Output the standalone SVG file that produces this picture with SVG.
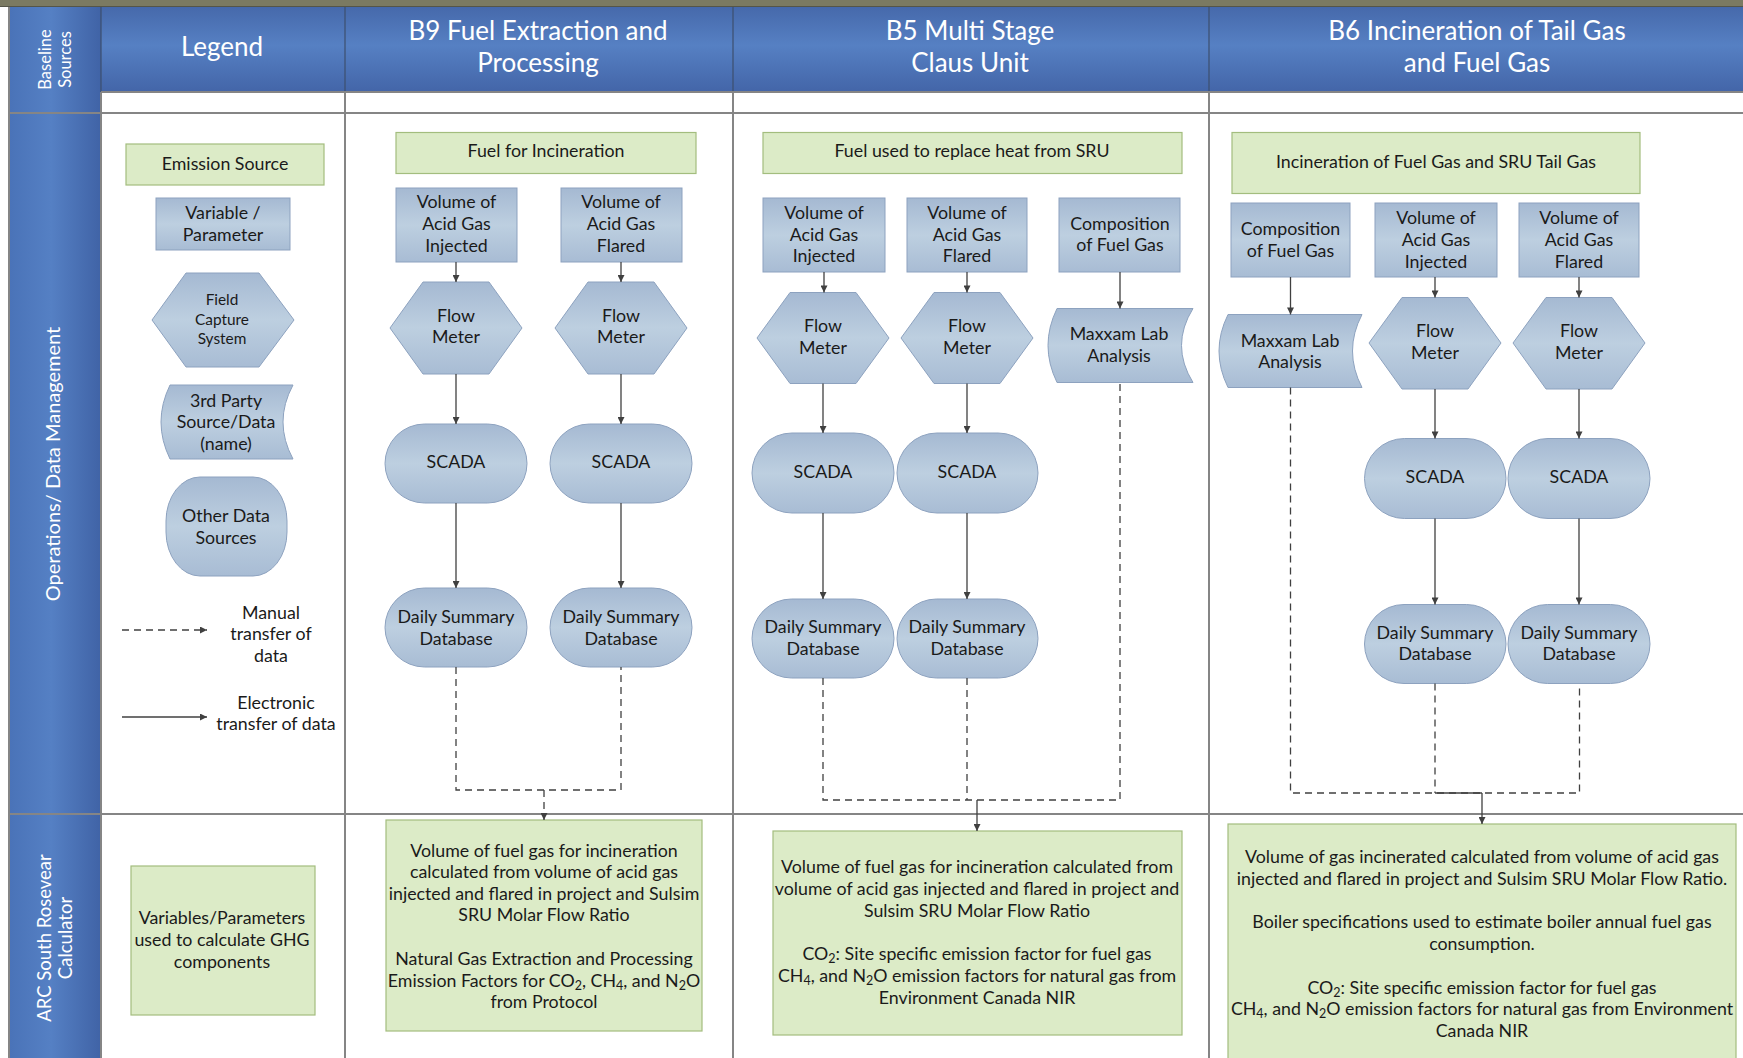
<svg xmlns="http://www.w3.org/2000/svg" width="1743" height="1058" viewBox="0 0 1743 1058">
<defs>
<linearGradient id="sideG" x1="0" y1="0" x2="1" y2="0">
<stop offset="0" stop-color="#4a73b8"/><stop offset="0.45" stop-color="#5580c4"/><stop offset="1" stop-color="#4063a6"/>
</linearGradient>
<linearGradient id="headG" x1="0" y1="0" x2="0" y2="1">
<stop offset="0" stop-color="#4669ab"/><stop offset="0.45" stop-color="#5680c3"/><stop offset="1" stop-color="#4365a8"/>
</linearGradient>
<linearGradient id="nodeG" x1="0" y1="0" x2="0" y2="1">
<stop offset="0" stop-color="#a5b9d2"/><stop offset="0.5" stop-color="#bdcfe0"/><stop offset="1" stop-color="#a8bcd4"/>
</linearGradient>
<marker id="ah" viewBox="0 0 10 10" refX="10" refY="5" markerWidth="8" markerHeight="7" markerUnits="userSpaceOnUse" orient="auto">
<path d="M0,0 L10,5 L0,10 z" fill="#404040"/>
</marker>
<style>
.n{fill:url(#nodeG);stroke:#8da2bf;stroke-width:1}
.g{fill:#dcebc7;stroke:#a3bd7e;stroke-width:1.2}
.t{font-family:Lato,"Open Sans","Liberation Sans",sans-serif;font-size:17.8px;fill:#1a1a1a;text-anchor:middle}
.ts{font-size:15.4px}
.h{font-family:Lato,"Open Sans","Liberation Sans",sans-serif;font-size:26px;fill:#ffffff;text-anchor:middle}
.sd{font-family:Lato,"Open Sans","Liberation Sans",sans-serif;fill:#ffffff;text-anchor:middle}
.c{fill:none;stroke:#404040;stroke-width:1.3}
.d{fill:none;stroke:#404040;stroke-width:1.3;stroke-dasharray:7 5}
.gl{stroke:#858585;stroke-width:2;fill:none}
.hl{stroke:#3d4f6e;stroke-width:1.2;fill:none}
</style>
</defs>

<g id="background">
<rect x="0" y="0" width="1743" height="1058" fill="#ffffff"/>
<rect x="0" y="0" width="1743" height="6" fill="#7b7a62"/>
<rect x="0" y="6" width="1743" height="1" fill="#555548"/>
<rect x="10" y="7" width="91" height="1051" fill="url(#sideG)"/>
<rect x="101" y="7" width="1642" height="85" fill="url(#headG)"/>
<line class="gl" x1="9" y1="7" x2="9" y2="1058"/>
<line class="hl" x1="101" y1="7" x2="101" y2="92"/>
<line class="hl" x1="345" y1="7" x2="345" y2="92"/>
<line class="hl" x1="733" y1="7" x2="733" y2="92"/>
<line class="hl" x1="1209" y1="7" x2="1209" y2="92"/>
<line class="gl" x1="101" y1="92" x2="1743" y2="92"/>
<line class="gl" x1="10" y1="113" x2="1743" y2="113"/>
<line class="gl" x1="10" y1="814" x2="1743" y2="814"/>
<line class="gl" x1="101" y1="92" x2="101" y2="1058"/>
<line class="gl" x1="345" y1="92" x2="345" y2="1058"/>
<line class="gl" x1="733" y1="92" x2="733" y2="1058"/>
<line class="gl" x1="1209" y1="92" x2="1209" y2="1058"/>
</g>

<g id="side-labels">
<text class="sd" font-size="16.5" transform="translate(50.5,59.5) rotate(-90)">Baseline</text>
<text class="sd" font-size="16.5" transform="translate(70.5,59.5) rotate(-90)">Sources</text>
<text class="sd" font-size="20" transform="translate(60,464) rotate(-90)">Operations/ Data Management</text>
<text class="sd" font-size="18.5" transform="translate(50.5,938) rotate(-90)">ARC South Rosevear</text>
<text class="sd" font-size="18.5" transform="translate(71.5,938) rotate(-90)">Calculator</text>
</g>

<g id="headers">
<text class="h" x="222" y="56">Legend</text>
<text class="h" x="538" y="40">B9 Fuel Extraction and</text>
<text class="h" x="538" y="72">Processing</text>
<text class="h" x="970" y="40">B5 Multi Stage</text>
<text class="h" x="970" y="72">Claus Unit</text>
<text class="h" x="1477" y="40">B6 Incineration of Tail Gas</text>
<text class="h" x="1477" y="72">and Fuel Gas</text>
</g>

<g id="legend">
<g id="lg-emission"><rect class="g" x="126" y="144" width="198" height="41"/><text class="t" x="225" y="170">Emission Source</text></g>
<g id="lg-variable"><rect class="n" x="156" y="198" width="134" height="52"/><text class="t" x="223" y="219">Variable /</text><text class="t" x="223" y="241">Parameter</text></g>
<g id="lg-field"><polygon class="n" points="152,320 186,273 259,273 294,320 259,367 186,367"/><text class="t ts" x="222" y="305">Field</text><text class="t ts" x="222" y="325">Capture</text><text class="t ts" x="222" y="344">System</text></g>
<g id="lg-3rdparty"><path class="n" d="M170,385 L293,385 Q273,422 293,459 L170,459 Q152,422 170,385 Z"/><text class="t" x="226" y="407">3rd Party</text><text class="t" x="226" y="428">Source/Data</text><text class="t" x="226" y="450">(name)</text></g>
<g id="lg-other"><rect class="n" x="166" y="477" width="121" height="99" rx="34" ry="44"/><text class="t" x="226" y="522">Other Data</text><text class="t" x="226" y="544">Sources</text></g>
<g id="lg-manual"><text class="t" x="271" y="619">Manual</text><text class="t" x="271" y="640">transfer of</text><text class="t" x="271" y="662">data</text></g>
<g id="lg-electronic"><text class="t" x="276" y="709">Electronic</text><text class="t" x="276" y="730">transfer of data</text></g>
<g id="lg-variables"><rect class="g" x="131" y="866" width="184" height="149"/><text class="t" x="222" y="924">Variables/Parameters</text><text class="t" x="222" y="946">used to calculate GHG</text><text class="t" x="222" y="968">components</text></g>
</g>

<g id="b9">
<g id="b9-source"><rect class="g" x="396" y="132.5" width="300" height="41"/><text class="t" x="546" y="157">Fuel for Incineration</text></g>
<g id="b9-volinj"><rect class="n" x="396" y="188" width="121" height="74"/><text class="t" x="456.5" y="208">Volume of</text><text class="t" x="456.5" y="230">Acid Gas</text><text class="t" x="456.5" y="251.5">Injected</text></g>
<g id="b9-volfl"><rect class="n" x="561" y="188" width="121" height="74"/><text class="t" x="621" y="208">Volume of</text><text class="t" x="621" y="230">Acid Gas</text><text class="t" x="621" y="251.5">Flared</text></g>
<g id="b9-flow1"><polygon class="n" points="390,328 423,282 489,282 522,328 489,374 423,374"/><text class="t" x="456" y="322">Flow</text><text class="t" x="456" y="343">Meter</text></g>
<g id="b9-flow2"><polygon class="n" points="555,328 588,282 654,282 687,328 654,374 588,374"/><text class="t" x="621" y="322">Flow</text><text class="t" x="621" y="343">Meter</text></g>
<g id="b9-scada1"><rect class="n" x="385" y="424" width="142" height="79" rx="39.5"/><text class="t" x="456" y="468">SCADA</text></g>
<g id="b9-scada2"><rect class="n" x="550" y="424" width="142" height="79" rx="39.5"/><text class="t" x="621" y="468">SCADA</text></g>
<g id="b9-daily1"><rect class="n" x="385" y="588" width="142" height="79" rx="39.5"/><text class="t" x="456" y="623">Daily Summary</text><text class="t" x="456" y="644.5">Database</text></g>
<g id="b9-daily2"><rect class="n" x="550" y="588" width="142" height="79" rx="39.5"/><text class="t" x="621" y="623">Daily Summary</text><text class="t" x="621" y="644.5">Database</text></g>
<g id="b9-result"><rect class="g" x="386" y="820" width="316" height="211"/>
<text class="t" x="544" y="857">Volume of fuel gas for incineration</text>
<text class="t" x="544" y="878">calculated from volume of acid gas</text>
<text class="t" x="544" y="899.5">injected and flared in project and Sulsim</text>
<text class="t" x="544" y="921">SRU Molar Flow Ratio</text>
<text class="t" x="544" y="965">Natural Gas Extraction and Processing</text>
<text class="t" x="544" y="986.5">Emission Factors for CO<tspan font-size="12.5" dy="3">2</tspan><tspan dy="-3">, CH</tspan><tspan font-size="12.5" dy="3">4</tspan><tspan dy="-3">, and N</tspan><tspan font-size="12.5" dy="3">2</tspan><tspan dy="-3">O</tspan></text>
<text class="t" x="544" y="1008">from Protocol</text></g>
</g>

<g id="b5">
<g id="b5-source"><rect class="g" x="763" y="132.5" width="419" height="41"/><text class="t" x="972" y="157">Fuel used to replace heat from SRU</text></g>
<g id="b5-volinj"><rect class="n" x="763" y="198" width="122" height="74"/><text class="t" x="824" y="219">Volume of</text><text class="t" x="824" y="240.5">Acid Gas</text><text class="t" x="824" y="262">Injected</text></g>
<g id="b5-volfl"><rect class="n" x="907" y="198" width="120" height="74"/><text class="t" x="967" y="219">Volume of</text><text class="t" x="967" y="240.5">Acid Gas</text><text class="t" x="967" y="262">Flared</text></g>
<g id="b5-comp"><rect class="n" x="1059" y="198" width="121" height="74"/><text class="t" x="1120" y="229.5">Composition</text><text class="t" x="1120" y="251">of Fuel Gas</text></g>
<g id="b5-flow1"><polygon class="n" points="757,338 790,292.5 856,292.5 889,338 856,383.5 790,383.5"/><text class="t" x="823" y="332">Flow</text><text class="t" x="823" y="353.5">Meter</text></g>
<g id="b5-flow2"><polygon class="n" points="901,338 934,292.5 1000,292.5 1033,338 1000,383.5 934,383.5"/><text class="t" x="967" y="332">Flow</text><text class="t" x="967" y="353.5">Meter</text></g>
<g id="b5-maxxam"><path class="n" d="M1057,308.5 L1193,308.5 Q1170,345.5 1193,382.5 L1057,382.5 Q1039,345.5 1057,308.5 Z"/><text class="t" x="1119" y="339.5">Maxxam Lab</text><text class="t" x="1119" y="361.5">Analysis</text></g>
<g id="b5-scada1"><rect class="n" x="752" y="433" width="142" height="80" rx="40"/><text class="t" x="823" y="478">SCADA</text></g>
<g id="b5-scada2"><rect class="n" x="897" y="433" width="141" height="80" rx="40"/><text class="t" x="967" y="478">SCADA</text></g>
<g id="b5-daily1"><rect class="n" x="752" y="599" width="142" height="79" rx="39.5"/><text class="t" x="823" y="633">Daily Summary</text><text class="t" x="823" y="654.5">Database</text></g>
<g id="b5-daily2"><rect class="n" x="897" y="599" width="141" height="79" rx="39.5"/><text class="t" x="967" y="633">Daily Summary</text><text class="t" x="967" y="654.5">Database</text></g>
<g id="b5-result"><rect class="g" x="773" y="831" width="409" height="204"/>
<text class="t" x="977" y="873">Volume of fuel gas for incineration calculated from</text>
<text class="t" x="977" y="895">volume of acid gas injected and flared in project and</text>
<text class="t" x="977" y="917">Sulsim SRU Molar Flow Ratio</text>
<text class="t" x="977" y="960">CO<tspan font-size="12.5" dy="3">2</tspan><tspan dy="-3">: Site specific emission factor for fuel gas</tspan></text>
<text class="t" x="977" y="982">CH<tspan font-size="12.5" dy="3">4</tspan><tspan dy="-3">, and N</tspan><tspan font-size="12.5" dy="3">2</tspan><tspan dy="-3">O emission factors for natural gas from</tspan></text>
<text class="t" x="977" y="1004">Environment Canada NIR</text></g>
</g>

<g id="b6">
<g id="b6-source"><rect class="g" x="1232" y="132.5" width="408" height="61"/><text class="t" x="1436" y="168">Incineration of Fuel Gas and SRU Tail Gas</text></g>
<g id="b6-comp"><rect class="n" x="1231" y="203" width="119" height="74"/><text class="t" x="1290.5" y="235">Composition</text><text class="t" x="1290.5" y="257">of Fuel Gas</text></g>
<g id="b6-volinj"><rect class="n" x="1375" y="203" width="122" height="74"/><text class="t" x="1436" y="223.5">Volume of</text><text class="t" x="1436" y="246">Acid Gas</text><text class="t" x="1436" y="268">Injected</text></g>
<g id="b6-volfl"><rect class="n" x="1519" y="203" width="120" height="74"/><text class="t" x="1579" y="223.5">Volume of</text><text class="t" x="1579" y="246">Acid Gas</text><text class="t" x="1579" y="268">Flared</text></g>
<g id="b6-maxxam"><path class="n" d="M1228,314.5 L1362,314.5 Q1343,351 1362,387.5 L1228,387.5 Q1210,351 1228,314.5 Z"/><text class="t" x="1290" y="346.5">Maxxam Lab</text><text class="t" x="1290" y="368">Analysis</text></g>
<g id="b6-flow1"><polygon class="n" points="1369,343 1402,297.5 1468,297.5 1501,343 1468,389 1402,389"/><text class="t" x="1435" y="337">Flow</text><text class="t" x="1435" y="359">Meter</text></g>
<g id="b6-flow2"><polygon class="n" points="1513,343 1546,297.5 1612,297.5 1645,343 1612,389 1546,389"/><text class="t" x="1579" y="337">Flow</text><text class="t" x="1579" y="359">Meter</text></g>
<g id="b6-scada1"><rect class="n" x="1364.5" y="438.5" width="141.5" height="80" rx="40"/><text class="t" x="1435" y="483">SCADA</text></g>
<g id="b6-scada2"><rect class="n" x="1508" y="438.5" width="142" height="80" rx="40"/><text class="t" x="1579" y="483">SCADA</text></g>
<g id="b6-daily1"><rect class="n" x="1364.5" y="604.5" width="141.5" height="79" rx="39.5"/><text class="t" x="1435" y="639">Daily Summary</text><text class="t" x="1435" y="660">Database</text></g>
<g id="b6-daily2"><rect class="n" x="1508" y="604.5" width="142" height="79" rx="39.5"/><text class="t" x="1579" y="639">Daily Summary</text><text class="t" x="1579" y="660">Database</text></g>
<g id="b6-result"><rect class="g" x="1228" y="824" width="508" height="250"/>
<text class="t" x="1482" y="863">Volume of gas incinerated calculated from volume of acid gas</text>
<text class="t" x="1482" y="885">injected and flared in project and Sulsim SRU Molar Flow Ratio.</text>
<text class="t" x="1482" y="928">Boiler specifications used to estimate boiler annual fuel gas</text>
<text class="t" x="1482" y="950">consumption.</text>
<text class="t" x="1482" y="994">CO<tspan font-size="12.5" dy="3">2</tspan><tspan dy="-3">: Site specific emission factor for fuel gas</tspan></text>
<text class="t" x="1482" y="1015">CH<tspan font-size="12.5" dy="3">4</tspan><tspan dy="-3">, and N</tspan><tspan font-size="12.5" dy="3">2</tspan><tspan dy="-3">O emission factors for natural gas from Environment</tspan></text>
<text class="t" x="1482" y="1037">Canada NIR</text></g>
</g>

<g id="connectors">
<line class="d" x1="122" y1="630" x2="207" y2="630" marker-end="url(#ah)"/>
<line class="c" x1="122" y1="717" x2="207" y2="717" marker-end="url(#ah)"/>

<line class="c" x1="456" y1="262" x2="456" y2="282" marker-end="url(#ah)"/>
<line class="c" x1="621" y1="262" x2="621" y2="282" marker-end="url(#ah)"/>
<line class="c" x1="456" y1="374" x2="456" y2="424" marker-end="url(#ah)"/>
<line class="c" x1="621" y1="374" x2="621" y2="424" marker-end="url(#ah)"/>
<line class="c" x1="456" y1="503" x2="456" y2="588" marker-end="url(#ah)"/>
<line class="c" x1="621" y1="503" x2="621" y2="588" marker-end="url(#ah)"/>
<polyline class="d" points="456,667 456,790 621,790 621,667"/>
<line class="d" x1="544" y1="790" x2="544" y2="820" marker-end="url(#ah)"/>

<line class="c" x1="824" y1="272" x2="824" y2="292.5" marker-end="url(#ah)"/>
<line class="c" x1="967" y1="272" x2="967" y2="292.5" marker-end="url(#ah)"/>
<line class="c" x1="1120" y1="272" x2="1120" y2="308.5" marker-end="url(#ah)"/>
<line class="c" x1="823" y1="383.5" x2="823" y2="433" marker-end="url(#ah)"/>
<line class="c" x1="967" y1="383.5" x2="967" y2="433" marker-end="url(#ah)"/>
<line class="c" x1="823" y1="513" x2="823" y2="599" marker-end="url(#ah)"/>
<line class="c" x1="967" y1="513" x2="967" y2="599" marker-end="url(#ah)"/>
<polyline class="d" points="823,678 823,800 1120,800 1120,382.5"/>
<line class="d" x1="967" y1="678" x2="967" y2="800"/>
<line class="c" x1="977" y1="800" x2="977" y2="831" marker-end="url(#ah)"/>

<line class="c" x1="1290.5" y1="277" x2="1290.5" y2="314.5" marker-end="url(#ah)"/>
<line class="c" x1="1435" y1="277" x2="1435" y2="297.5" marker-end="url(#ah)"/>
<line class="c" x1="1579" y1="277" x2="1579" y2="297.5" marker-end="url(#ah)"/>
<line class="c" x1="1435" y1="389" x2="1435" y2="438.5" marker-end="url(#ah)"/>
<line class="c" x1="1579" y1="389" x2="1579" y2="438.5" marker-end="url(#ah)"/>
<line class="c" x1="1435" y1="518.5" x2="1435" y2="604.5" marker-end="url(#ah)"/>
<line class="c" x1="1579" y1="518.5" x2="1579" y2="604.5" marker-end="url(#ah)"/>
<polyline class="d" points="1290.5,387.5 1290.5,793 1579.5,793 1579.5,683.5"/>
<line class="d" x1="1435" y1="683.5" x2="1435" y2="793"/>
<line class="c" x1="1435" y1="793" x2="1482" y2="793"/>
<line class="c" x1="1482" y1="793" x2="1482" y2="824" marker-end="url(#ah)"/>
</g>
</svg>
